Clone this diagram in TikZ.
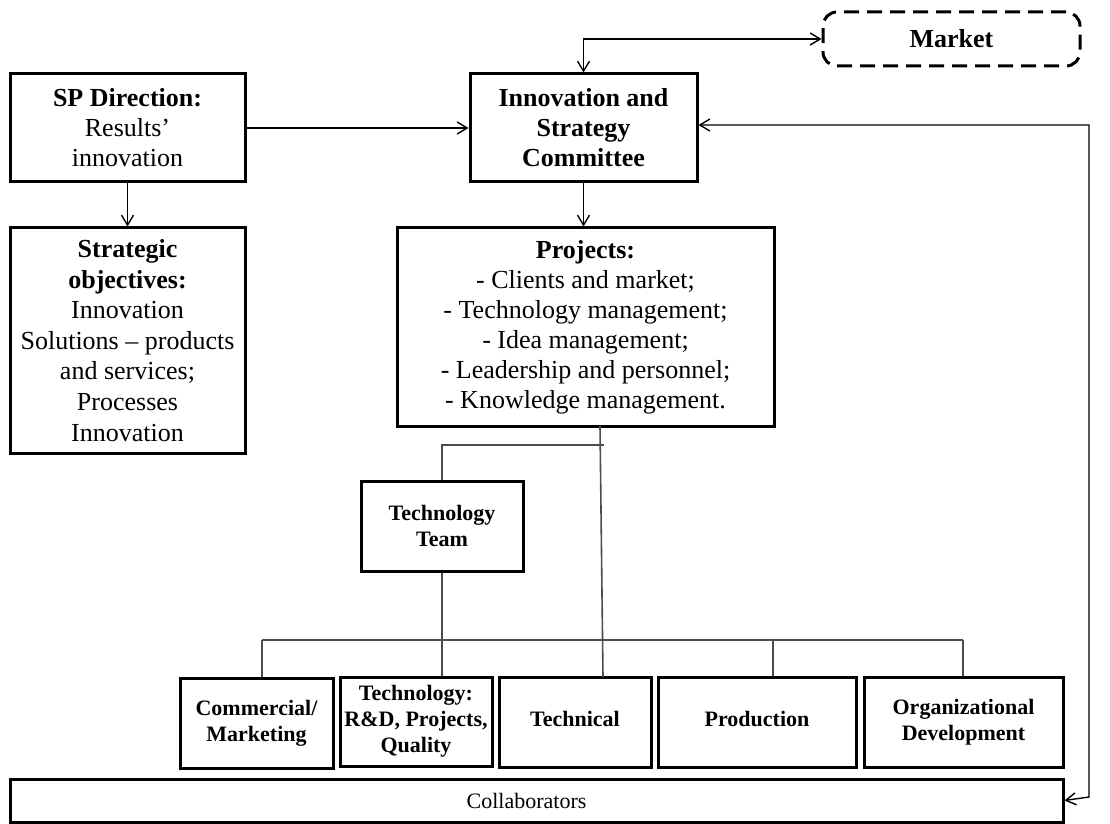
\documentclass[tikz,border=0pt]{standalone}
\usepackage{fontspec}
\setmainfont{Liberation Serif}
\usetikzlibrary{arrows.meta}
\tikzset{
  box/.style={draw, line width=1.5pt, inner sep=0pt, align=center, font=\fontsize{13}{15}\selectfont},
  smallbox/.style={box, font=\fontsize{11}{13}\selectfont\bfseries},
  tree/.style={draw=black!70, line width=0.8pt},
  arr/.style={line width=0.7pt, -{Straight Barb[length=5pt,width=6pt]}},
  arrtwo/.style={line width=0.7pt, {Straight Barb[length=5pt,width=6pt]}-{Straight Barb[length=5pt,width=6pt]}}
}
\begin{document}
\begin{tikzpicture}[x=0.5pt,y=-0.5pt]
\useasboundingbox (0,0) rectangle (1110,824);
% top row
\node[box, minimum width=117.5pt, minimum height=54pt] (sp) at (127.5,128) {\textbf{SP Direction:}\\Results'\\innovation};
\node[box, minimum width=113.5pt, minimum height=54pt, font=\fontsize{13}{15}\selectfont\bfseries] (isc) at (583.5,128) {Innovation and\\Strategy\\Committee};
\node[box, dashed, dash pattern=on 7.5pt off 4pt, rounded corners=7pt, minimum width=128.5pt, minimum height=27pt, font=\fontsize{13}{15}\selectfont\bfseries] (mkt) at (951.5,39) {Market};
% second row
\node[box, minimum width=117.5pt, minimum height=112.5pt, font=\fontsize{13}{15.3}\selectfont] (so) at (127.5,340.5) {\textbf{Strategic}\\\textbf{objectives:}\\Innovation\\Solutions -- products\\and services;\\Processes\\Innovation};
\node[box, minimum width=188.5pt, minimum height=99pt] (proj) at (585.5,327) {\textbf{Projects:}\\- Clients and market;\\- Technology management;\\- Idea management;\\- Leadership and personnel;\\- Knowledge management.};
% technology team
\node[smallbox, minimum width=81pt, minimum height=45pt] (tt) at (442,526) {Technology\\Team};
% bottom row
\node[smallbox, minimum width=76.5pt, minimum height=45pt] (cm) at (256.5,723) {Commercial/\\Marketing};
\node[smallbox, minimum width=76pt, minimum height=44.5pt] (tech) at (416,721.5) {Technology:\\R\&D, Projects,\\Quality};
\node[smallbox, minimum width=76pt, minimum height=45pt] (tcl) at (575,722) {\raisebox{3pt}{Technical}};
\node[smallbox, minimum width=99pt, minimum height=45pt] (prod) at (757,722) {\raisebox{3pt}{Production}};
\node[smallbox, minimum width=99.5pt, minimum height=45pt] (od) at (963.5,722) {Organizational\\Development};
\node[box, minimum width=526.5pt, minimum height=21.5pt, font=\fontsize{11}{13}\selectfont] (col) at (536.5,800.5) {\raisebox{-1.5pt}{\hspace*{-10pt}Collaborators}};
% arrows
\draw[arr] (sp) -- (isc);
\draw[arr] (sp) -- (so);
\draw[arr] (isc.south) -- (isc.south |- proj.north);
\draw[arrtwo] (mkt.west) -| (isc.north);
\coordinate (rc) at (1089,125);
\coordinate (rb) at (1089,797);
\draw[arrtwo] (isc.east |- rc) -- (rc) -- (rb) -- (col.east);
% tree
\coordinate (pj) at (600,426);
\coordinate (ptb) at (603,677);
\draw[tree] (pj) -- (ptb);
\coordinate (br) at (604,445);
\coordinate (bl) at (442,445);
\draw[tree] (br) -- (bl) -- (tt.north);
\draw[tree] (tt.south) -- (tt.south |- tech.north);
\coordinate (busL) at (262,640);
\coordinate (busR) at (963,640);
\draw[tree] (busL) -- (busR);
\draw[tree] (busL) -- (busL |- cm.north);
\coordinate (bp) at (773,640);
\draw[tree] (bp) -- (bp |- prod.north);
\draw[tree] (busR) -- (busR |- od.north);
\end{tikzpicture}
\end{document}
